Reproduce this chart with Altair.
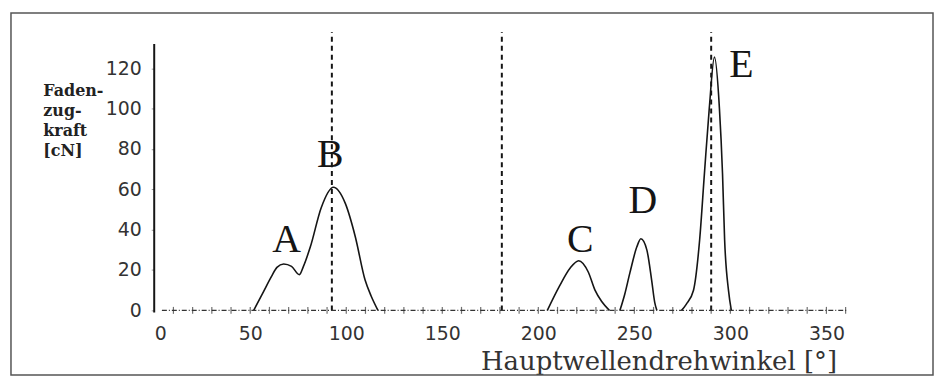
import altair as alt
import pandas as pd

# ---- data ----
ab_x = [51.8, 57.0, 61.0, 63.9, 67.4, 71.5, 75.6, 77.7, 81.3, 87.0, 93.3, 99.5, 104.7, 109.8, 113.0, 116.5]
ab_y = [0, 9.4, 16.7, 21.3, 23.0, 21.8, 17.7, 21.8, 31.5, 51.0, 61.0, 53.0, 36.5, 15.0, 7.0, 0]
c_x = [204.7, 211.0, 216.6, 221.0, 226.0, 229.5, 233.0, 237.0]
c_y = [0, 12.0, 21.0, 24.6, 19.0, 10.0, 4.4, 0]
d_x = [242.5, 245.0, 247.7, 251.3, 253.4, 256.5, 259.0, 260.6, 261.7]
d_y = [0, 8.0, 18.7, 31.5, 35.5, 30.0, 15.0, 4.0, 0]
e_x = [274.6, 277.0, 280.8, 284.0, 286.5, 289.0, 291.7, 294.3, 295.9, 297.0, 299.0, 300.5]
e_y = [0, 3.0, 10.0, 35.0, 68.0, 100.0, 125.5, 100.0, 68.0, 35.0, 10.0, 0]

peak_names = ["A", "B", "C", "D", "E"]
peak_x = [68.9, 91.7, 221.8, 254.4, 305.7]
peak_y = [29.0, 70.9, 29.0, 48.3, 115.8]

marker_x = [92.5, 181.0, 290.0]
marker_top = 138

x_label_values = [0, 50, 100, 150, 200, 250, 300, 350]
y_label_values = [0, 20, 40, 60, 80, 100, 120]
minor_ticks = list(range(10, 361, 10))

y_title = ["Faden-", "zug-", "kraft", "[cN]"]
x_title = "Hauptwellendrehwinkel [°]"

# ---- tables ----
rows = []
for seg, xs, ys in [("AB", ab_x, ab_y), ("C", c_x, c_y), ("D", d_x, d_y), ("E", e_x, e_y)]:
    for a, b in zip(xs, ys):
        rows.append({"seg": seg, "w": a, "f": b})
curve = pd.DataFrame(rows)
peaks = pd.DataFrame({"name": peak_names, "w": peak_x, "f": peak_y})
markers = pd.DataFrame({"w": marker_x, "f": [0] * len(marker_x), "f1": [marker_top] * len(marker_x)})
baseline = pd.DataFrame({"w": [4], "w1": [361], "f": [0]})
yline = pd.DataFrame({"w": [0], "f": [-1], "f1": [132]})
ticks = pd.DataFrame({"w": minor_ticks, "f": [0] * len(minor_ticks)})
one = pd.DataFrame({"k": [0]})

X = alt.Scale(domain=[0, 362], nice=False, zero=False)
Y = alt.Scale(domain=[0, 140], nice=False)

INK = "#151515"

x_axis = alt.Axis(
    values=x_label_values,
    domain=False,
    ticks=False,
    grid=False,
    labelFont="DejaVu Sans",
    labelFontSize=19,
    labelColor="#333",
    labelPadding=14,
    title=x_title,
    titleFont="DejaVu Serif",
    titleFontSize=26,
    titleFontWeight="normal",
    titleColor="#333",
    titleX=686,
    titleY=59,
    titleAlign="right",
    titleBaseline="alphabetic",
)
y_axis = alt.Axis(
    values=y_label_values,
    domain=False,
    grid=False,
    tickSize=3,
    tickColor="#999",
    labelFont="DejaVu Sans",
    labelFontSize=19,
    labelColor="#333",
    labelPadding=10,
    title=y_title,
    titleAngle=0,
    titleX=-112,
    titleY=55,
    titleAlign="left",
    titleBaseline="top",
    titleFont="DejaVu Serif",
    titleFontSize=16,
    titleFontWeight="bold",
    titleColor="#222",
    titleLineHeight=20,
)

XE = alt.X("w:Q", scale=X, axis=x_axis)
YE = alt.Y("f:Q", scale=Y, axis=y_axis)

line = alt.Chart(curve).mark_line(interpolate="monotone", color=INK, strokeWidth=1.6).encode(
    x=XE, y=YE, detail="seg:N"
)

dashed = alt.Chart(markers).mark_rule(strokeDash=[5, 4], strokeWidth=2, color=INK).encode(
    x=XE, y=YE, y2="f1:Q"
)

xaxis_line = alt.Chart(baseline).mark_rule(strokeDash=[5, 2, 1, 2], strokeWidth=1.2, color="#333").encode(
    x=XE, x2="w1:Q", y=YE
)

xticks = alt.Chart(ticks).mark_tick(orient="vertical", size=7, thickness=1.2, color="#333").encode(
    x=XE, y=YE
)

yaxis_line = alt.Chart(yline).mark_rule(strokeWidth=2, color=INK).encode(
    x=XE, y=YE, y2="f1:Q"
)

letters = alt.Chart(peaks).mark_text(
    font="Liberation Serif", fontSize=40, align="center", baseline="alphabetic", color=INK
).encode(x=XE, y=YE, text="name:N")

frame = alt.Chart(one).mark_rect(fillOpacity=0, stroke="#555", strokeWidth=1.5).encode(
    x=alt.value(-144), x2=alt.value(783), y=alt.value(-15), y2=alt.value(349)
)

chart = (
    alt.layer(line, dashed, xaxis_line, xticks, yaxis_line, letters, frame)
    .properties(
        width=699,
        height=284,
        padding={"left": 147, "top": 19, "right": 85, "bottom": 66},
        autosize=alt.AutoSizeParams(type="none"),
        background="white",
    )
    .configure_view(strokeWidth=0)
)

chart.save("out.html", embed_options={"renderer": "svg", "actions": False})
